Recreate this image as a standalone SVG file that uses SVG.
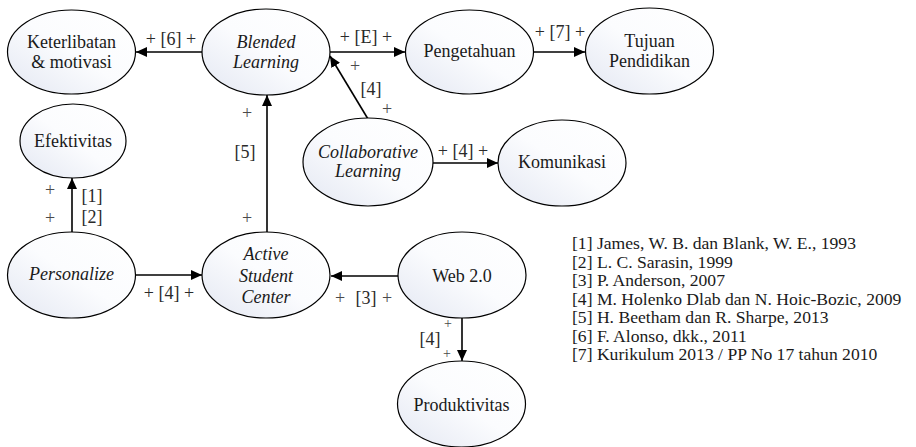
<svg xmlns="http://www.w3.org/2000/svg" width="916" height="447" viewBox="0 0 916 447">
  <defs>
    <linearGradient id="nodeFill" x1="1" y1="0" x2="0" y2="1">
      <stop offset="0" stop-color="#ffffff"/>
      <stop offset="0.5" stop-color="#fbfcfe"/>
      <stop offset="1" stop-color="#e3e7f2"/>
    </linearGradient>
    <marker id="arrow" markerUnits="userSpaceOnUse" markerWidth="12" markerHeight="10" refX="11" refY="5" orient="auto">
      <path d="M0,0 L11,5 L0,10 z" fill="#000"/>
    </marker>
  </defs>
  <style>
    .node ellipse { fill: url(#nodeFill); stroke: #000; stroke-width: 1.2; }
    .node text { font-family: "Liberation Serif", "Times New Roman", serif; font-size: 18px; fill: #1a1a1a; text-anchor: middle; }
    .node text.it { font-style: italic; }
    .edge { stroke: #000; stroke-width: 1.6; fill: none; marker-end: url(#arrow); }
    .lbl { font-family: "Liberation Serif", "Times New Roman", serif; font-size: 18px; fill: #2a2a2a; text-anchor: middle; }
    .pl { font-family: "Liberation Serif", "Times New Roman", serif; font-size: 18px; fill: #4a4a4a; text-anchor: middle; }
    .sm { font-size: 14px; }
    .ref { font-family: "Liberation Serif", "Times New Roman", serif; font-size: 17.6px; fill: #1a1a1a; }
  </style>

  <rect width="916" height="447" fill="#ffffff"/>

  <!-- connectors -->
  <g id="connectors">
    <line class="edge" x1="202" y1="52" x2="136" y2="52"/>
    <line class="edge" x1="330" y1="52" x2="405" y2="52"/>
    <line class="edge" x1="534" y1="52" x2="585" y2="52"/>
    <line class="edge" x1="368" y1="119" x2="330" y2="56"/>
    <line class="edge" x1="267" y1="232" x2="267" y2="95"/>
    <line class="edge" x1="72" y1="232" x2="72" y2="178"/>
    <line class="edge" x1="135" y1="275" x2="202" y2="275"/>
    <line class="edge" x1="398" y1="276" x2="331" y2="276"/>
    <line class="edge" x1="462" y1="318" x2="462" y2="361"/>
    <line class="edge" x1="433" y1="163" x2="498" y2="163"/>

    <!-- edge labels -->
    <text class="lbl" x="171" y="45">+ [6] +</text>
    <text class="lbl" x="366" y="43">+ [E] +</text>
    <text class="lbl" x="560" y="38">+ [7] +</text>
    <text class="lbl" x="463" y="157">+ [4] +</text>
    <text class="lbl" x="169" y="299">+ [4] +</text>

    <text class="pl" x="340" y="304">+</text>
    <text class="lbl" x="366" y="304">[3]</text>
    <text class="pl" x="387" y="304">+</text>

    <text class="pl" x="355" y="72">+</text>
    <text class="lbl" x="371" y="95">[4]</text>
    <text class="pl" x="387" y="115">+</text>

    <text class="pl" x="247" y="119">+</text>
    <text class="lbl" x="245" y="158">[5]</text>
    <text class="pl" x="247" y="224">+</text>

    <text class="pl" x="50" y="196">+</text>
    <text class="pl" x="50" y="224">+</text>
    <text class="lbl" x="92" y="202">[1]</text>
    <text class="lbl" x="92" y="223">[2]</text>

    <text class="lbl" x="430" y="345">[4]</text>
    <text class="pl sm" x="448" y="328">+</text>
    <text class="pl sm" x="447" y="358">+</text>
  </g>

  <!-- nodes -->
  <g id="keterlibatan" class="node">
    <ellipse cx="71.5" cy="52" rx="64" ry="42"/>
    <text x="71.5" y="48">Keterlibatan</text>
    <text x="71.5" y="68">&amp; motivasi</text>
  </g>
  <g id="blended" class="node">
    <ellipse cx="266" cy="52" rx="64" ry="43"/>
    <text class="it" x="266" y="48">Blended</text>
    <text class="it" x="266" y="68">Learning</text>
  </g>
  <g id="pengetahuan" class="node">
    <ellipse cx="469.5" cy="52" rx="64" ry="42"/>
    <text x="469.5" y="57">Pengetahuan</text>
  </g>
  <g id="tujuan" class="node">
    <ellipse cx="649.5" cy="51" rx="64" ry="43"/>
    <text x="649.5" y="47">Tujuan</text>
    <text x="649.5" y="67">Pendidikan</text>
  </g>
  <g id="efektivitas" class="node">
    <ellipse cx="73" cy="141" rx="53" ry="37"/>
    <text x="73" y="147">Efektivitas</text>
  </g>
  <g id="collaborative" class="node">
    <ellipse cx="368" cy="162" rx="65" ry="44"/>
    <text class="it" x="368" y="158">Collaborative</text>
    <text class="it" x="368" y="177">Learning</text>
  </g>
  <g id="komunikasi" class="node">
    <ellipse cx="562" cy="163" rx="64" ry="43"/>
    <text x="562" y="168">Komunikasi</text>
  </g>
  <g id="personalize" class="node">
    <ellipse cx="71.5" cy="275" rx="64" ry="43"/>
    <text class="it" x="71.5" y="280">Personalize</text>
  </g>
  <g id="active" class="node">
    <ellipse cx="266" cy="275" rx="64" ry="43"/>
    <text class="it" x="266" y="260">Active</text>
    <text class="it" x="266" y="282">Student</text>
    <text class="it" x="266" y="303">Center</text>
  </g>
  <g id="web20" class="node">
    <ellipse cx="462" cy="275" rx="64" ry="43"/>
    <text x="462" y="282">Web 2.0</text>
  </g>
  <g id="produktivitas" class="node">
    <ellipse cx="461.5" cy="404" rx="64" ry="43"/>
    <text x="461.5" y="411">Produktivitas</text>
  </g>

  <!-- reference list -->
  <g id="references" class="ref">
    <text x="572" y="249">[1] James, W. B. dan Blank, W. E., 1993</text>
    <text x="572" y="267.5">[2] L. C. Sarasin, 1999</text>
    <text x="572" y="286">[3] P. Anderson, 2007</text>
    <text x="572" y="304.5">[4] M. Holenko Dlab dan N. Hoic-Bozic, 2009</text>
    <text x="572" y="323">[5] H. Beetham dan R. Sharpe, 2013</text>
    <text x="572" y="341.5">[6] F. Alonso, dkk., 2011</text>
    <text x="572" y="360">[7] Kurikulum 2013 / PP No 17 tahun 2010</text>
  </g>
</svg>
